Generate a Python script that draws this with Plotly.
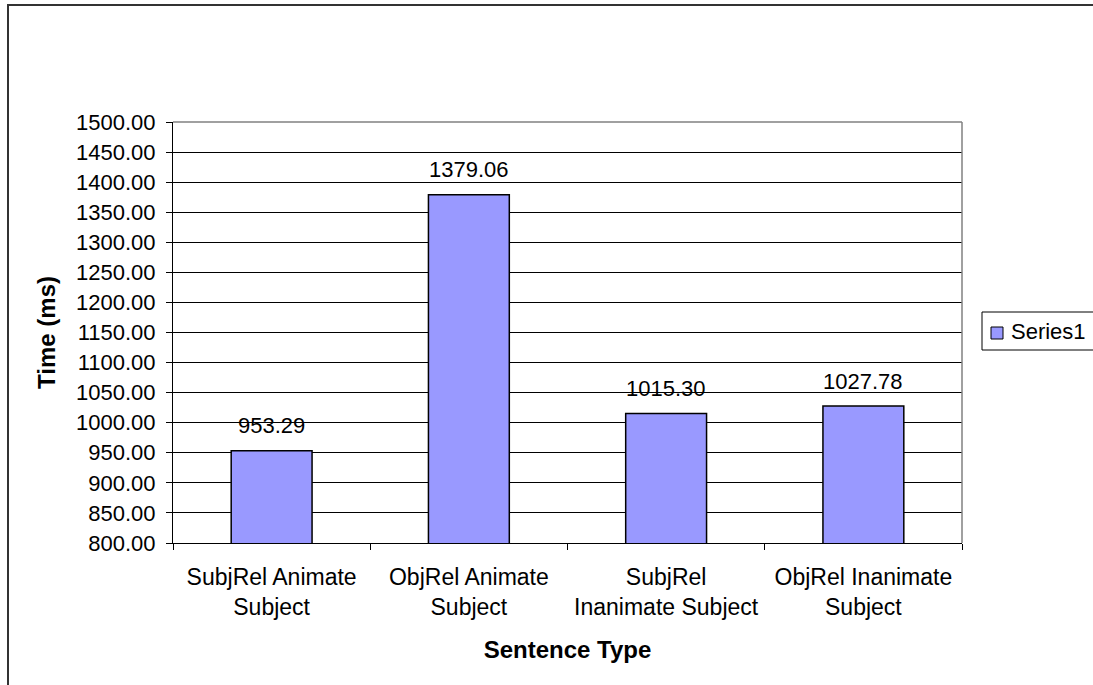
import plotly.graph_objects as go

# Mean reading times per sentence type
categories = [
    "SubjRel Animate<br>Subject",
    "ObjRel Animate<br>Subject",
    "SubjRel<br>Inanimate Subject",
    "ObjRel Inanimate<br>Subject",
]
times_ms = [953.29, 1379.06, 1015.30, 1027.78]
series_name = "Series1"

y_min, y_max, y_step = 800, 1500, 50

FONT = "Liberation Sans, Arial, sans-serif"
FS = 22
FS_CAT = 23
FS_TITLE = 24
BAR_COLOR = "#9999FF"

W, H = 1093, 685
L, R, T, B = 173, 131, 122, 142
pw, ph = W - L - R, H - T - B


def px_x(px):
    return (px - L) / pw


def px_y(py):
    return (H - B - py) / ph


fig = go.Figure()
fig.add_trace(go.Bar(
    x=categories,
    y=times_ms,
    name=series_name,
    marker=dict(color=BAR_COLOR, line=dict(color="#000000", width=1.5)),
    showlegend=False,
))

# value labels above the bars
for cat, v in zip(categories, times_ms):
    fig.add_annotation(
        x=cat, y=v, text=f"{v:.2f}", showarrow=False,
        xref="x", yref="y", yanchor="middle", yshift=25,
        font=dict(family=FONT, size=FS, color="#000000"),
    )

# legend: box, swatch and series name
fig.add_annotation(
    x=px_x(1009), y=px_y(331), xref="paper", yref="paper",
    xanchor="left", yanchor="middle", showarrow=False,
    text=series_name, font=dict(family=FONT, size=FS, color="#000000"),
)

shapes = [
    # plot area border (top / right)
    dict(type="line", xref="paper", yref="paper", x0=0, x1=1, y0=1, y1=1,
         line=dict(color="#808080", width=1.5)),
    dict(type="line", xref="paper", yref="paper", x0=1, x1=1, y0=0, y1=1,
         line=dict(color="#808080", width=1.5)),
    # chart frame
    dict(type="rect", xref="paper", yref="paper",
         x0=px_x(8), x1=px_x(1105), y0=px_y(700), y1=px_y(5),
         line=dict(color="#333333", width=2), fillcolor="rgba(0,0,0,0)"),
    # legend box
    dict(type="rect", xref="paper", yref="paper",
         x0=px_x(982), x1=px_x(1110), y0=px_y(350), y1=px_y(312),
         line=dict(color="#000000", width=1), fillcolor="#FFFFFF", layer="below"),
    # legend swatch
    dict(type="rect", xref="paper", yref="paper",
         x0=px_x(991), x1=px_x(1003), y0=px_y(339), y1=px_y(327),
         line=dict(color="#000000", width=1), fillcolor=BAR_COLOR),
]
fig.update_layout(shapes=shapes)

fig.update_layout(
    width=W, height=H,
    margin=dict(l=L, r=R, t=T, b=B, autoexpand=False),
    paper_bgcolor="#FFFFFF",
    plot_bgcolor="#FFFFFF",
    bargap=0.59,
    showlegend=False,
    font=dict(family=FONT, size=FS, color="#000000"),
    xaxis=dict(
        type="category",
        showline=True, linecolor="#000000", linewidth=1,
        ticks="outside", ticklen=6, tickcolor="#000000", tickwidth=1,
        tickson="boundaries",
        showgrid=False, zeroline=False,
        tickfont=dict(family=FONT, size=FS_CAT, color="#000000"),
        ticklabelstandoff=13,
        title=dict(text="<b>Sentence Type</b>", standoff=22,
                   font=dict(family=FONT, size=FS_TITLE, color="#000000")),
    ),
    yaxis=dict(
        range=[y_min, y_max], dtick=y_step, tick0=y_min,
        tickformat=".2f",
        showline=True, linecolor="#000000", linewidth=1,
        ticks="outside", ticklen=6, tickcolor="#000000", tickwidth=1,
        showgrid=True, gridcolor="#000000", gridwidth=1,
        zeroline=False,
        tickfont=dict(family=FONT, size=FS, color="#000000"),
        ticklabelstandoff=6,
        title=dict(text="<b>Time (ms)</b>", standoff=13,
                   font=dict(family=FONT, size=FS_TITLE, color="#000000")),
    ),
)

fig.write_html("out.html")
